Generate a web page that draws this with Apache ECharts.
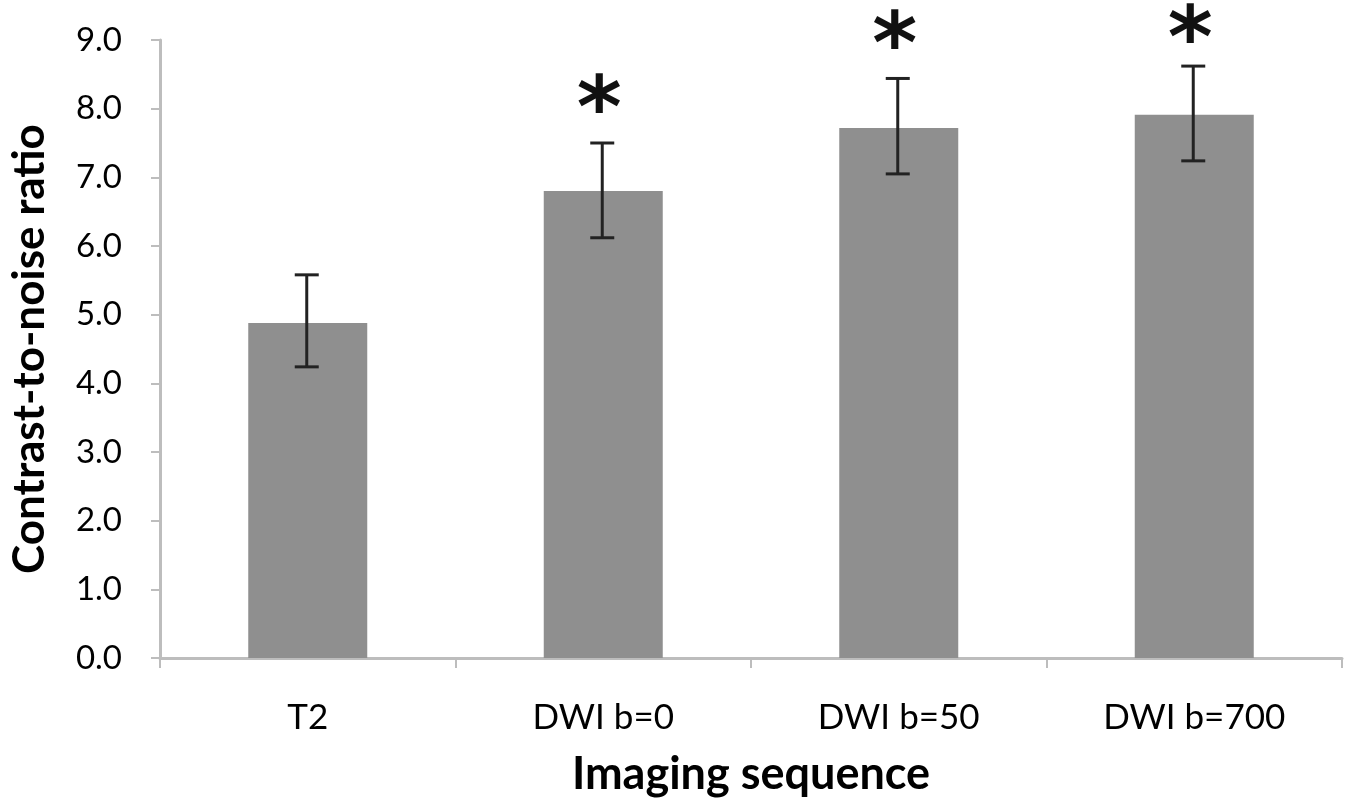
<!DOCTYPE html>
<html><head><meta charset="utf-8">
<script src="https://cdn.jsdelivr.net/npm/echarts@6/dist/echarts.min.js"></script>
<style>html,body{margin:0;padding:0;background:#fff}#c{width:1352px;height:802px}</style>
</head><body><div id="c"></div>
<script>
const categories = ['T2', 'DWI b=0', 'DWI b=50', 'DWI b=700'];
const means = [4.88, 6.80, 7.72, 7.91];
const errLow = [4.24, 6.12, 7.05, 7.24];
const errHigh = [5.58, 7.50, 8.44, 8.62];
const marks = ['', '*', '*', '*'];

const FONT = 'Lato, "Open Sans", sans-serif';
const chart = echarts.init(document.getElementById('c'));
chart.setOption({
  animation: false,
  grid: { left: 157, right: 10, top: 40, bottom: 142 },
  xAxis: {
    type: 'category', data: categories,
    name: 'Imaging sequence', nameLocation: 'middle', nameGap: 94,
    nameTextStyle: { fontFamily: FONT, fontSize: 45, fontWeight: 'bold', color: '#000' },
    axisLine: { lineStyle: { color: '#bdbdbd', width: 3 } },
    axisTick: { show: true, length: 10, lineStyle: { color: '#bdbdbd', width: 2 } },
    axisLabel: { fontFamily: FONT, fontSize: 35, color: '#000', margin: 42 }
  },
  yAxis: {
    type: 'value', min: 0, max: 9, interval: 1,
    name: 'Contrast-to-noise ratio', nameLocation: 'middle', nameGap: 108,
    nameTextStyle: { fontFamily: FONT, fontSize: 44, fontWeight: 'bold', color: '#000' },
    axisLine: { show: true, lineStyle: { color: '#bdbdbd', width: 3 } },
    axisTick: { show: true, length: 9, lineStyle: { color: '#bdbdbd', width: 2 } },
    splitLine: { show: false },
    axisLabel: { fontFamily: FONT, fontSize: 33, color: '#000', margin: 38, formatter: v => v.toFixed(1) }
  },
  series: [
    {
      type: 'bar', data: means, barWidth: 119,
      itemStyle: { color: '#8f8f8f' }
    },
    {
      type: 'custom',
      data: categories.map((c, i) => [i, errLow[i], errHigh[i]]),
      renderItem: function (params, api) {
        const lo = api.coord([api.value(0), api.value(1)]);
        const hi = api.coord([api.value(0), api.value(2)]);
        const x = lo[0] - 1, hw = 12;
        const st = { stroke: '#222', lineWidth: 3 };
        const children = [
          { type: 'line', shape: { x1: x, y1: hi[1], x2: x, y2: lo[1] }, style: st },
          { type: 'line', shape: { x1: x - hw, y1: hi[1], x2: x + hw, y2: hi[1] }, style: st },
          { type: 'line', shape: { x1: x - hw, y1: lo[1], x2: x + hw, y2: lo[1] }, style: st }
        ];
        const m = marks[params.dataIndex];
        if (m) {
          children.push({ type: 'text', style: { text: m, x: x - 3, y: Math.max(hi[1] + 15, 88), align: 'center', verticalAlign: 'bottom',
            fontSize: 86, fontWeight: 'bold', fontFamily: 'DejaVu Sans, sans-serif', fill: '#111' } });
        }
        return { type: 'group', children };
      },
      z: 5
    }
  ]
});
</script></body></html>
